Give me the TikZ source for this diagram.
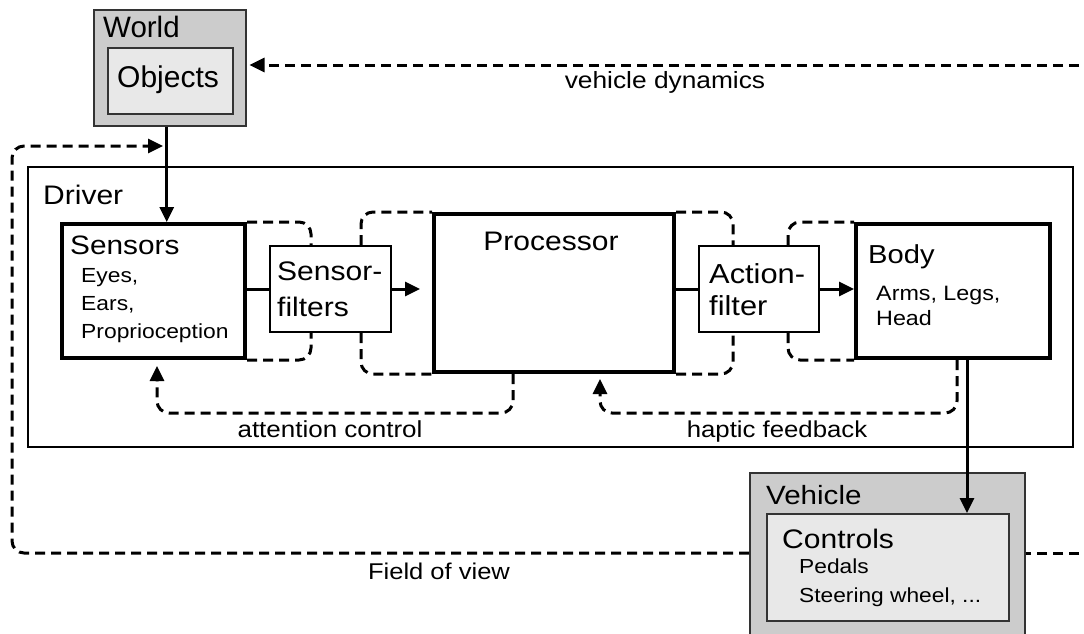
\documentclass[tikz,border=0pt]{standalone}
\usepackage{fontspec}
\setmainfont{Liberation Sans}[FakeStretch=1.12]
\newfontfamily\plainfont{Liberation Sans}
\usetikzlibrary{arrows.meta}
\newcommand{\fsz}[1]{\fontsize{#1}{#1}\selectfont}
\begin{document}
\begin{tikzpicture}[x=1pt,y=-1pt,
  thickbox/.style={draw, line width=4pt, anchor=north west, inner sep=0},
  thinbox/.style={draw, line width=2pt, anchor=north west, inner sep=0},
  graybox/.style={draw=black!80, line width=1.5pt, fill=black!20, anchor=north west, inner sep=0},
  lightbox/.style={draw=black!80, line width=1.5pt, fill=black!9, anchor=north west, inner sep=0},
  txt/.style={anchor=base west, inner sep=0},
  ctxt/.style={anchor=base, inner sep=0},
  dsh/.style={line width=3pt, dash pattern=on 10pt off 6pt, rounded corners=12pt},
  sol/.style={line width=3pt},
  tip/.style={-{Triangle[length=15pt,width=14pt]}},
]
\useasboundingbox (0,0) rectangle (1084,633);
\fill[white] (0,0) rectangle (1084,633);

% boxes
\node[graybox, minimum width=152, minimum height=116] (world) at (93,9) {};
\node[lightbox, minimum width=125, minimum height=66] (obj) at (107,47) {};
\node[draw, line width=1.5pt, anchor=north west, inner sep=0, minimum width=1045, minimum height=280] (driver) at (27,166) {};
\node[thickbox, minimum width=183, minimum height=134] (sens) at (60,222) {};
\node[thinbox, minimum width=121, minimum height=86] (sf) at (269,245) {};
\node[thickbox, minimum width=240, minimum height=158] (proc) at (432,212) {};
\node[thinbox, minimum width=120, minimum height=86] (af) at (698,245) {};
\node[thickbox, minimum width=194, minimum height=134] (body) at (854,222) {};

% field of view line (behind vehicle)
\coordinate (fovR) at (1095,553);
\coordinate (fovL) at (12,553);
\coordinate (fovT) at (12,146);
\coordinate (fovE) at (163,146);
\draw[dsh] (fovR) -- (749,553);
\node[graybox, minimum width=275, minimum height=190] (veh) at (749,472) {};
\node[lightbox, minimum width=242, minimum height=107] (ctrl) at (766,513) {};
\draw[dsh, tip] (veh.west |- fovR) -- (fovL) -- (fovT) -- (fovE);

% texts
\node[txt] (tworld) at (103,37) {\plainfont\fsz{29.5}World};
\node[txt] (tobj) at (117,87) {\plainfont\fsz{30}Objects};
\node[txt] (tdriver) at (43,204) {\fsz{26.8}Driver};
\node[txt] (tsens) at (70,254) {\fsz{26.6}Sensors};
\node[txt] (teyes) at (81,282) {\fsz{20.4}Eyes,};
\node[txt] (tears) at (81,310) {\fsz{20.4}Ears,};
\node[txt] (tprop) at (81,338) {\fsz{20.4}Proprioception};
\node[ctxt] (tproc) at (551,250) {\fsz{26.8}Processor};
\node[txt] (tsf1) at (277,280) {\fsz{26.8}Sensor-};
\node[txt] (tsf2) at (277,316) {\fsz{26.8}filters};
\node[txt] (taf1) at (709,283) {\fsz{27.5}Action-};
\node[txt] (taf2) at (709,315) {\fsz{27.5}filter};
\node[txt] (tbody) at (868,263) {\fsz{26}Body};
\node[txt] (tarms) at (876,300) {\fsz{20.8}Arms, Legs,};
\node[txt] (thead) at (876,325) {\fsz{20.8}Head};
\node[txt] (tveh) at (766,504) {\fsz{26.4}Vehicle};
\node[txt] (tctrl) at (782,548) {\fsz{26.8}Controls};
\node[txt] (tped) at (799,573) {\fsz{20.3}Pedals};
\node[txt] (tsteer) at (799,602) {\fsz{20.3}Steering wheel, ...};
\node[ctxt] (tvd) at (665,88) {\fsz{23.5}vehicle dynamics};
\node[ctxt] (tatt) at (330,437) {\fsz{23.2}attention control};
\node[ctxt] (thap) at (777,437) {\fsz{23}haptic feedback};
\node[ctxt] (tfov) at (439,579) {\fsz{22.8}Field of view};

% solid connectors
\draw[sol, tip] ([xshift=-3pt]world.south) -- ([xshift=-3pt]world.south |- sens.north);
\draw[sol] (sens.east |- sf.west) -- (sf.west);
\draw[sol, tip] (sf.east) -- ([xshift=-12pt]proc.west |- sf.east);
\draw[sol] (proc.east |- af.west) -- (af.west);
\draw[sol, tip] (af.east) -- (body.west |- af.east);
\draw[sol, tip] ([xshift=14pt]body.south) -- ([xshift=14pt]body.south |- ctrl.north);

% dashed bypasses
\draw[dsh] (sens.north east) -| ([xshift=-19.5pt]sf.north);
\draw[dsh] (sens.south east) -| ([xshift=-19.5pt]sf.south);
\draw[dsh] ([xshift=30.5pt]sf.north) |- (proc.north west);
\draw[dsh] ([xshift=30.5pt]sf.south) |- (proc.south west);
\draw[dsh] (proc.north east) -| ([xshift=-26pt]af.north);
\draw[dsh] (proc.south east) -| ([xshift=-26pt]af.south);
\draw[dsh] ([xshift=29pt]af.north) |- (body.north west);
\draw[dsh] ([xshift=29pt]af.south) |- (body.south west);

% feedback loops
\draw[dsh, tip] ([xshift=-41pt]proc.south) -- ++(0,39) -| ([xshift=3.5pt,yshift=-6pt]sens.south);
\draw[dsh, tip] ([xshift=4pt]body.south) -- ++(0,53) -| ([xshift=46pt,yshift=-5pt]proc.south);

% vehicle dynamics
\coordinate (vdR) at (1095,65);
\draw[dsh, tip] (vdR) -- ([xshift=3pt]world.east |- vdR);
\end{tikzpicture}
\end{document}
